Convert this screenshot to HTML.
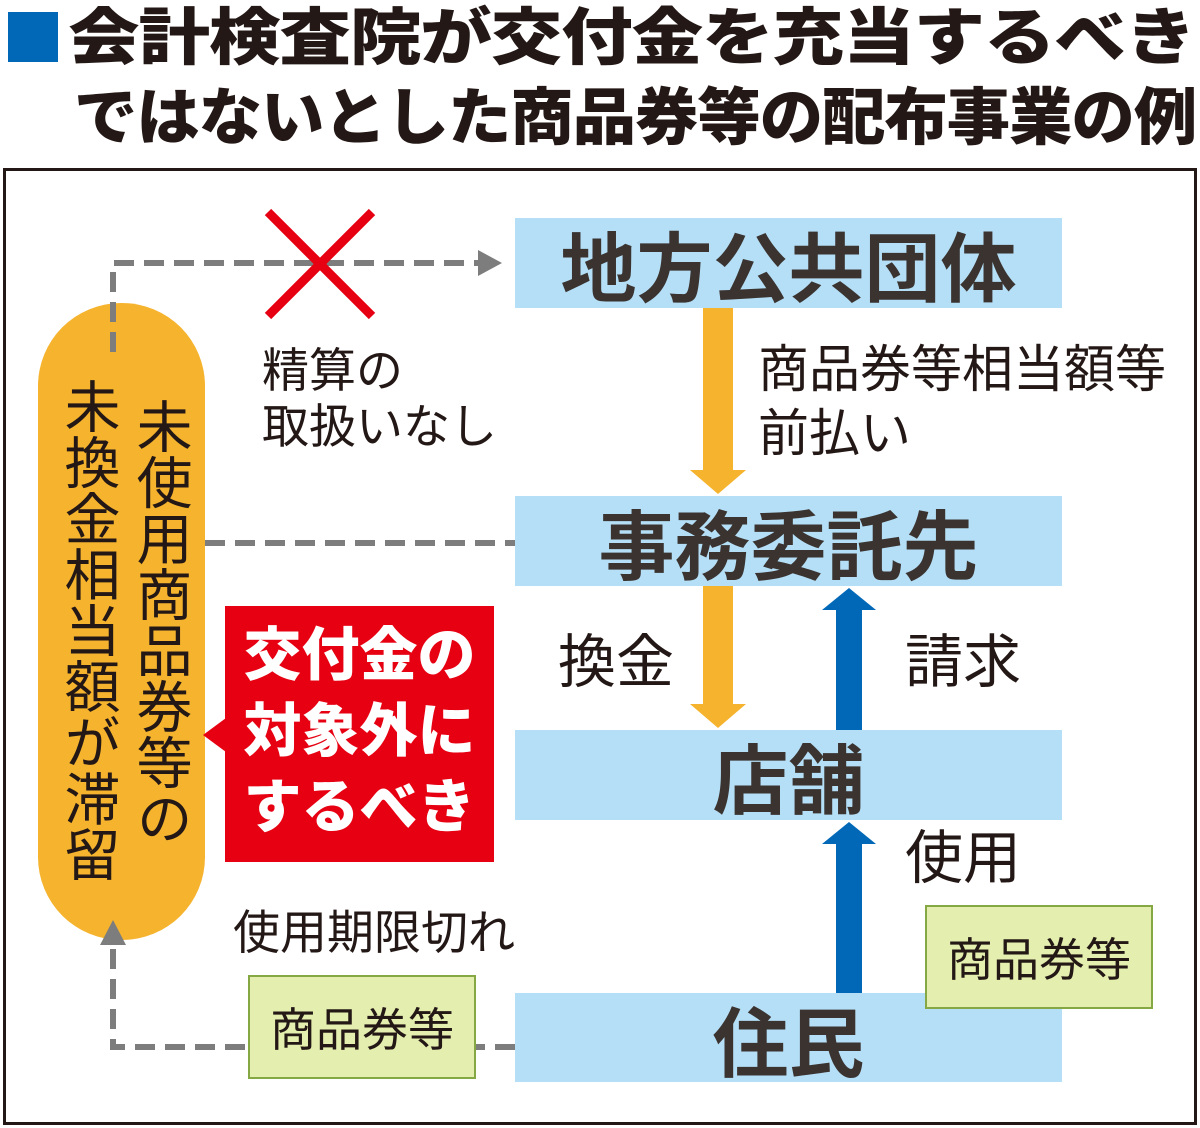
<!DOCTYPE html>
<html><head><meta charset="utf-8"><style>
body{margin:0;width:1200px;height:1128px;background:#fff;position:relative;overflow:hidden;font-family:"Liberation Sans","Noto Sans CJK JP",sans-serif;color:#231815}
.a{position:absolute}
.t{font-weight:900;font-size:62px;letter-spacing:-1px;white-space:nowrap;line-height:1;transform-origin:0 0}
.bb{position:absolute;left:515px;width:547px;background:#b5dff6;display:flex;align-items:center;justify-content:center;font-weight:700;font-size:76px;color:#3a3330}
.g{position:absolute;background:#e4eeaf;border:2px solid #86a844;display:flex;align-items:center;justify-content:center;font-size:46px}
.l{position:absolute;font-size:48px;line-height:1.2;white-space:nowrap}
</style></head><body>
<div class="a" style="left:8px;top:12px;width:50px;height:50px;background:#0068b7"></div>
<div class="a t" style="left:68px;top:8px;transform:scaleX(1.155)">会計検査院が交付金を充当するべき</div>
<div class="a t" style="left:74px;top:88px;transform:scaleX(1.022)">ではないとした商品券等の配布事業の例</div>
<div class="a" style="left:3px;top:168px;width:1188px;height:951px;border:3px solid #231815"></div>

<svg class="a" style="left:0;top:0" width="1200" height="1128">
<rect x="38" y="303" width="167" height="637" rx="83" fill="#f5b32e"/>
<g stroke="#7d7d7d" stroke-width="6" stroke-dasharray="20 10" fill="none">
<path d="M113 352 V263 H480"/>
<path d="M205 543 H515"/>
<path d="M515 1047 H113 V940"/>
</g>
<polygon points="478,250 502,263 478,276" fill="#7d7d7d"/>
<polygon points="100,945 113,920 126,945" fill="#7d7d7d"/>
<g stroke="#e60012" stroke-width="9"><line x1="268" y1="212" x2="372" y2="316"/><line x1="372" y1="212" x2="268" y2="316"/></g>
<rect x="703" y="308" width="30" height="165" fill="#f5b32e"/>
<polygon points="690,470 746,470 718,494" fill="#f5b32e"/>
<rect x="703" y="586" width="30" height="120" fill="#f5b32e"/>
<polygon points="690,704 746,704 718,728" fill="#f5b32e"/>
<rect x="836" y="608" width="26" height="122" fill="#0068b7"/>
<polygon points="822,610 876,610 849,588" fill="#0068b7"/>
<rect x="836" y="842" width="26" height="151" fill="#0068b7"/>
<polygon points="822,844 876,844 849,822" fill="#0068b7"/>
<polygon points="226,718 226,752 203,735" fill="#e60012"/>
</svg>

<div class="bb" style="top:218px;height:90px">地方公共団体</div>
<div class="bb" style="top:496px;height:90px">事務委託先</div>
<div class="bb" style="top:730px;height:90px">店舗</div>
<div class="bb" style="top:993px;height:89px">住民</div>

<div class="a" style="left:225px;top:606px;width:269px;height:256px;background:#e60012;color:#fff;font-weight:900;font-size:58px;line-height:76px;text-align:center;padding-top:12px;box-sizing:border-box">交付金の<br>対象外に<br>するべき</div>

<div class="a" style="left:132px;top:398px;writing-mode:vertical-rl;font-size:56px;line-height:1;color:#231815">未使用商品券等の</div>
<div class="a" style="left:60px;top:378px;writing-mode:vertical-rl;font-size:56px;line-height:1;color:#231815">未換金相当額が滞留</div>

<div class="l" style="left:262px;top:343px;font-size:47px;line-height:56px">精算の<br>取扱いなし</div>
<div class="l" style="left:758px;top:338px;font-size:51px;line-height:64px">商品券等相当額等<br>前払い</div>
<div class="l" style="left:558px;top:628px;font-size:58px">換金</div>
<div class="l" style="left:905px;top:628px;font-size:58px">請求</div>
<div class="l" style="left:905px;top:824px;font-size:58px">使用</div>
<div class="l" style="left:233px;top:905px;font-size:47px">使用期限切れ</div>
<div class="g" style="left:925px;top:905px;width:224px;height:100px">商品券等</div>
<div class="g" style="left:248px;top:975px;width:224px;height:100px">商品券等</div>
</body></html>
